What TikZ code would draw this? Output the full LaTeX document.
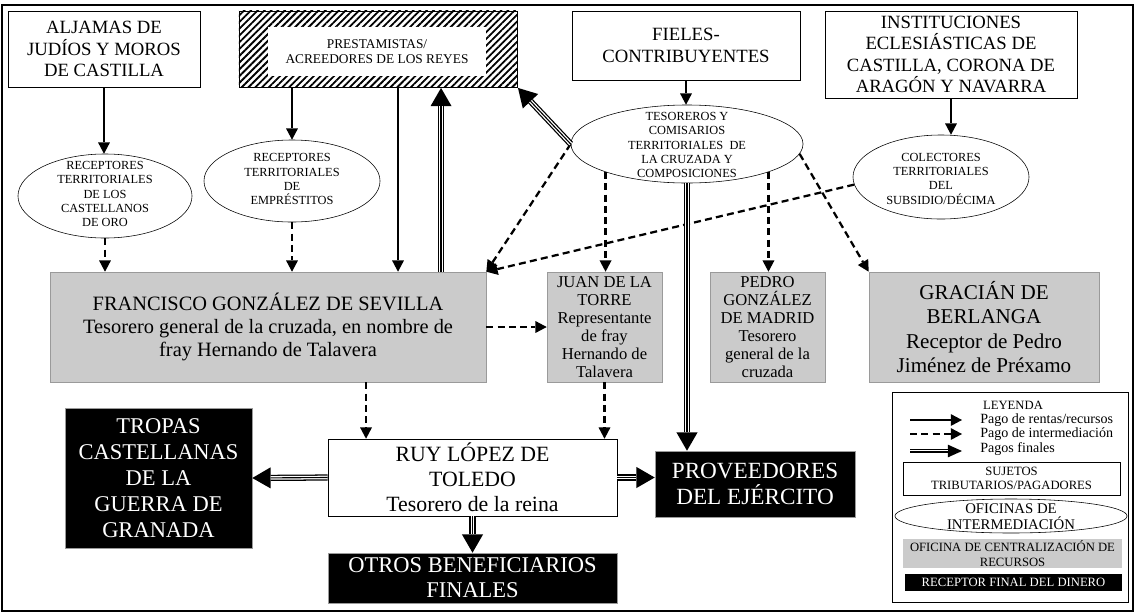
\documentclass[tikz,border=0pt]{standalone}
\usepackage{fontspec}
\setmainfont{Liberation Serif}
\usetikzlibrary{shapes.geometric, arrows.meta, patterns.meta}
\definecolor{boxgray}{HTML}{CBCBCB}
\definecolor{edgegray}{HTML}{9A9A9A}
\newcommand{\setfs}[2]{\fontsize{#1}{#2}\selectfont}
\newcommand{\ovaltxt}[2][0pt]{\raisebox{#1}[0pt][0pt]{\makebox[0pt]{\parbox[c]{6cm}{\centering #2}}}}

\begin{document}
\begin{tikzpicture}[
        x=0.025cm, y=-0.025cm,
        src/.style={rectangle, draw, thin, fill=white, align=center, inner sep=1pt, font=\setfs{13.3}{15.3}},
        office/.style={ellipse, draw, thin, fill=white, inner sep=0pt, font=\setfs{8.8}{10.2}},
        central/.style={rectangle, draw=edgegray, fill=boxgray, align=center, inner sep=1pt},
        sink/.style={rectangle, draw=edgegray, fill=black, text=white, align=center, inner sep=1pt},
        pay/.style={line width=1.6pt, -{Triangle[length=8pt,width=8.5pt,line width=0pt]}},
        inter/.style={pay, dash pattern=on 5pt off 3pt},
        final/.style={line width=4.4pt, -{Triangle[length=13pt,width=15pt,line width=0pt]},
            postaction={draw=white, line width=2.6pt, -, shorten >=13pt},
            postaction={draw=black, line width=0.8pt, -, shorten >=13pt}},
        legfinal/.style={line width=3.4pt, -{Triangle[length=10pt,width=9pt,line width=0pt]},
            postaction={draw=white, line width=1.8pt, -, shorten >=10pt},
            postaction={draw=black, line width=0.6pt, -, shorten >=10pt}}
    ]
        \useasboundingbox (0,0) rectangle (1135,613);
        \draw[line width=1.3pt] (2,5) rectangle (1133,611);

        % Sujetos tributarios
        \node[src, minimum width=4.8cm, minimum height=1.9cm] (aljamas) at (104,49) {ALJAMAS DE\\JUDÍOS Y MOROS\\DE CASTILLA};
        \node[rectangle, draw, thin, pattern={Lines[angle=45,distance=3.4pt,line width=1.3pt]}, minimum width=6.95cm, minimum height=1.9cm] (prest) at (378,49) {};
        \node[src, draw=none, font=\setfs{9.5}{10.3}, minimum width=5.45cm, minimum height=1.225cm] (prestin) at (377,51.5) {PRESTAMISTAS/\\ACREEDORES DE LOS REYES};
        \node[src, minimum width=5.7cm, minimum height=1.725cm] (fieles) at (686,45.5) {FIELES-\\CONTRIBUYENTES};
        \node[src, minimum width=6.3cm, minimum height=2.175cm] (instit) at (951,54.5) {INSTITUCIONES\\ECLESIÁSTICAS DE\\CASTILLA, CORONA DE\\ARAGÓN Y NAVARRA};

        % Oficinas de intermediacion
        \node[office, minimum width=4.35cm, minimum height=2.1cm] (castellanos) at (105,196) {\ovaltxt[-1pt]{RECEPTORES\\TERRITORIALES\\DE LOS\\CASTELLANOS\\DE ORO}};
        \node[office, minimum width=4.4cm, minimum height=2.05cm] (emprest) at (292,181) {\ovaltxt[-1pt]{RECEPTORES\\TERRITORIALES\\DE\\EMPRÉSTITOS}};
        \node[office, minimum width=5.8cm, minimum height=1.95cm] (tesoreros) at (687,144) {\ovaltxt[-3pt]{TESOREROS Y\\COMISARIOS\\TERRITORIALES~~DE\\LA CRUZADA Y\\COMPOSICIONES}};
        \node[office, minimum width=4.4cm, minimum height=2.1cm] (colectores) at (941,177) {\ovaltxt[-3.5pt]{COLECTORES\\TERRITORIALES\\DEL\\SUBSIDIO/DÉCIMA}};

        % Centralizacion
        \node[central, font=\setfs{14.5}{16.5}, minimum width=10.9cm, minimum height=2.75cm] (francisco) at (268,327) {FRANCISCO GONZÁLEZ DE SEVILLA\\Tesorero general de la cruzada, en nombre de\\fray Hernando de Talavera};
        \node[central, font=\setfs{11.8}{12.8}, minimum width=2.875cm, minimum height=2.75cm] (juan) at (604.5,327) {JUAN DE LA\\TORRE\\Representante\\de fray\\Hernando de\\Talavera};
        \node[central, font=\setfs{11.8}{12.8}, minimum width=2.875cm, minimum height=2.75cm] (pedro) at (767.5,327) {PEDRO\\GONZÁLEZ\\DE MADRID\\Tesorero\\general de la\\cruzada};
        \node[central, font=\setfs{15}{17.5}, minimum width=5.75cm, minimum height=2.75cm] (gracian) at (984,327) {GRACIÁN DE\\BERLANGA\\Receptor de Pedro\\Jiménez de Préxamo};
        \node[src, font=\setfs{15.5}{17.8}, minimum width=7.225cm, minimum height=1.925cm] (ruy) at (472.5,477.5) {RUY LÓPEZ DE\\TOLEDO\\Tesorero de la reina};

        % Receptores finales
        \node[sink, font=\setfs{16}{18.5}, minimum width=4.675cm, minimum height=3.5cm] (tropas) at (158.5,478) {TROPAS\\CASTELLANAS\\DE LA\\GUERRA DE\\GRANADA};
        \node[sink, font=\setfs{16.5}{19}, minimum width=5cm, minimum height=1.65cm] (prov) at (755,484) {PROVEEDORES\\DEL EJÉRCITO};
        \node[sink, font=\setfs{16}{17.8}, minimum width=7.225cm, minimum height=1.25cm] (otros) at (472.5,578) {OTROS BENEFICIARIOS\\FINALES};

        % Pago de rentas
        \draw[pay] (aljamas.south) -- (aljamas.south |- castellanos.north);
        \draw[pay] (emprest.north |- prest.south) -- (emprest.north);
        \draw[pay] ([xshift=0.5cm]prest.south) -- ([xshift=0.5cm]prest.south |- francisco.north);
        \draw[pay] (fieles.south) -- (fieles.south |- tesoreros.north);
        \draw[pay] (instit.south) -- (instit.south |- colectores.north);

        % Pago de intermediacion
        \draw[inter] (castellanos.south) -- (castellanos.south |- francisco.north);
        \draw[inter] (emprest.south) -- (emprest.south |- francisco.north);
        \draw[inter] (tesoreros.west) -- (francisco.north east);
        \draw[inter] (colectores.185) -- (francisco.north east);
        \draw[inter] (tesoreros.199) -- (tesoreros.199 |- juan.north);
        \draw[inter] (tesoreros.341) -- (tesoreros.341 |- pedro.north);
        \draw[inter] (tesoreros.355) -- (gracian.north west);
        \draw[inter] (francisco.east) -- (juan.west);
        \draw[inter] ([xshift=2.45cm]francisco.south) -- ([xshift=2.45cm]francisco.south |- ruy.north);
        \draw[inter] (juan.south) -- (juan.south |- ruy.north);

        % Pagos finales
        \draw[final] ([xshift=4.325cm]francisco.north) -- ([xshift=4.325cm]francisco.north |- prest.south);
        \draw[final] (tesoreros.west) -- (prest.south east);
        \draw[final] (tesoreros.south) -- (tesoreros.south |- prov.north);
        \draw[final] (ruy.west) -- (tropas.east);
        \draw[final] (ruy.east) -- (ruy.east -| prov.west);
        \draw[final] (ruy.south) -- (otros.north);

        % Leyenda
        \node[rectangle, draw, thin, minimum width=5.9cm, minimum height=5.25cm] (legend) at (1010,497) {};
        \node[font=\setfs{9}{10}, inner sep=0pt] (legtitle) at (1013,405) {LEYENDA};
        \coordinate (lpayA) at (910,420);
        \coordinate (lpayB) at (962,420);
        \coordinate (linterA) at (910,434);
        \coordinate (linterB) at (962,434);
        \coordinate (lfinA) at (910,451);
        \coordinate (lfinB) at (962,451);
        \node[anchor=west, font=\setfs{10}{11}, inner sep=0pt] (lpay) at (980,420) {Pago de rentas/recursos};
        \node[anchor=west, font=\setfs{10}{11}, inner sep=0pt] (linter) at (980,434) {Pago de intermediación};
        \node[anchor=west, font=\setfs{10}{11}, inner sep=0pt] (lfin) at (980,449) {Pagos finales};
        \draw[pay] (lpayA) -- (lpayB);
        \draw[inter] (linterA) -- (linterB);
        \draw[legfinal] (lfinA) -- (lfinB);
        \node[src, font=\setfs{9}{10.3}, minimum width=5.425cm, minimum height=0.825cm] (lsrc) at (1011.5,478.5) {SUJETOS\\TRIBUTARIOS/PAGADORES};
        \node[office, font=\setfs{10.5}{11.5}, minimum width=5.8cm, minimum height=0.85cm] (loffice) at (1011,516) {\ovaltxt[-3pt]{OFICINAS DE\\INTERMEDIACIÓN}};
        \node[central, draw=none, inner sep=0pt, font=\setfs{9}{10.6}, minimum width=5.475cm, minimum height=0.725cm] (lcentral) at (1012.5,553.5) {OFICINA DE CENTRALIZACIÓN DE\\RECURSOS};
        \node[sink, draw=none, inner sep=0pt, font=\setfs{9}{10}, minimum width=5.425cm, minimum height=0.425cm] (lsink) at (1013.5,582.5) {RECEPTOR FINAL DEL DINERO};
    \end{tikzpicture}
\end{document}
